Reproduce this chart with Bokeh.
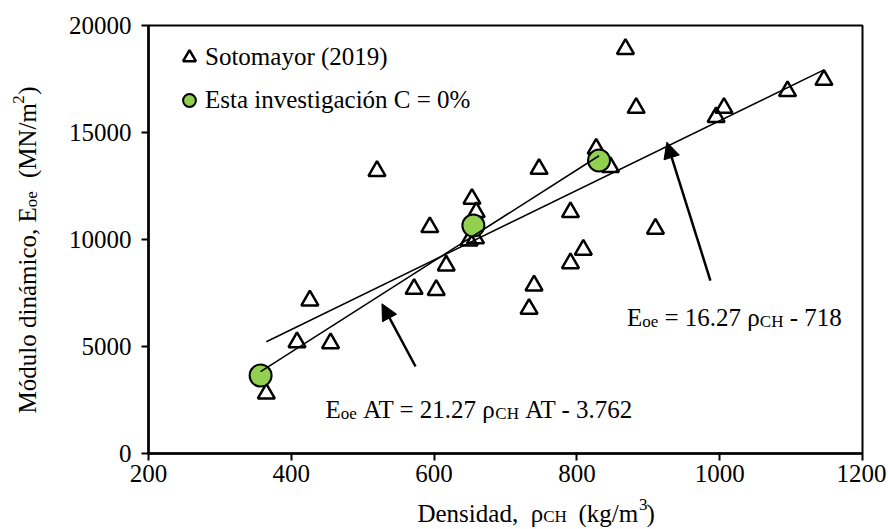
import math
from bokeh.plotting import figure
from bokeh.models import (Range1d, FixedTicker, Label, Arrow, NormalHead,
                          Legend, LegendItem, ColumnDataSource)
from bokeh.embed import file_html
from bokeh.resources import INLINE

# ---------------- data ----------------
soto_density = [365, 408, 426, 455, 520, 572, 594, 603, 617, 649, 653, 658, 659,
                733, 740, 747, 791, 791, 809, 827, 847, 868, 883, 910, 995, 1006,
                1095, 1146]
soto_modulus = [2800, 5200, 7150, 5150, 13200, 7690, 10575, 7640, 8785, 9950, 11900,
                10050, 11280, 6760, 7850, 13300, 11280, 8890, 9520, 14240, 13380,
                18900, 16150, 10500, 15720, 16150, 16930, 17460]

esta_density = [357, 655, 831]
esta_modulus = [3640, 10650, 13690]

soto_slope, soto_intercept = 16.27, -718
esta_slope, esta_intercept = 21.27, -3762

x_ticks = [200, 400, 600, 800, 1000, 1200]
y_ticks = [0, 5000, 10000, 15000, 20000]

FONT = "Liberation Serif"
BIG = 25
SMALL = 17
BASE_FIX = 8   # label baseline correction (px)

# Times-like advance widths (per 1000 em) and a few kerning pairs
W = {'E': 611, 'o': 500, 'e': 444, ' ': 250, '\u00a0': 250, '=': 564, '.': 250,
     'ρ': 500, 'C': 667, 'H': 722, '-': 333, 'A': 722, 'T': 611, 'D': 722,
     'n': 500, 's': 389, 'i': 278, 'd': 500, 'a': 444, ',': 250, '(': 333,
     ')': 333, 'k': 500, 'g': 500, '/': 278, 'm': 778, 'M': 889, 'ó': 500,
     'u': 500, 'l': 278, 'á': 444, 'c': 444, 'N': 722}
KERN = {('A', 'T'): -111}


def text_width(txt, size):
    w = sum(W.get(ch, 500) for ch in txt)
    w += sum(KERN.get((a, b), 0) for a, b in zip(txt, txt[1:]))
    return w * size / 1000.0


def spacer(px, size):
    """Non-collapsing spaces (four-per-em and six-per-em) of about px width."""
    target = px / size
    best = ("", 1e9)
    for a in range(0, 24):
        for b in range(0, 6):
            err = abs(a * 0.25 + b / 6.0 - target)
            if err < best[1] - 1e-9:
                best = ("\u2005" * a + "\u2006" * b, err)
    return best[0]


p = figure(width=886, height=527, output_backend="svg", toolbar_location=None,
           x_range=Range1d(200, 1200), y_range=Range1d(0, 20000),
           min_border_left=148, min_border_right=24, min_border_top=25,
           min_border_bottom=74)
p.background_fill_color = "white"
p.border_fill_color = "white"
p.outline_line_color = "black"
p.outline_line_width = 2
p.xgrid.visible = False
p.ygrid.visible = False

for ax, ticks in ((p.xaxis[0], x_ticks), (p.yaxis[0], y_ticks)):
    ax.ticker = FixedTicker(ticks=ticks)
    ax.minor_tick_line_color = None
    ax.major_tick_in = 0
    ax.major_tick_out = 7
    ax.major_tick_line_width = 2
    ax.major_tick_line_color = "black"
    ax.axis_line_width = 2.5
    ax.axis_line_color = "black"
    ax.major_label_text_font = FONT
    ax.major_label_text_font_size = f"{BIG}px"
    ax.major_label_text_color = "black"
p.xaxis.major_label_standoff = 4
p.yaxis.major_label_standoff = 10

soto_src = ColumnDataSource(dict(x=soto_density, y=soto_modulus))
esta_src = ColumnDataSource(dict(x=esta_density, y=esta_modulus))

r_soto = p.scatter("x", "y", source=soto_src, marker="triangle", size=17,
                   fill_alpha=0, line_color="black", line_width=2.5)
r_esta = p.scatter("x", "y", source=esta_src, marker="circle", size=22,
                   fill_color="#92D050", line_color="black", line_width=2)

# trend lines
sx0, sx1 = min(soto_density), max(soto_density)
p.line([sx0, sx1], [soto_slope * sx0 + soto_intercept, soto_slope * sx1 + soto_intercept],
       line_color="black", line_width=1.5)
ex0, ex1 = min(esta_density), max(esta_density)
p.line([ex0, ex1], [esta_slope * ex0 + esta_intercept, esta_slope * ex1 + esta_intercept],
       line_color="black", line_width=1.5)

# arrows
for (xs, ys, xe, ye) in ((987, 8084, 926, 14550), (574, 4065, 527, 6995)):
    p.add_layout(Arrow(end=NormalHead(size=16, fill_color="black", line_color="black"),
                       x_start=xs, y_start=ys, x_end=xe, y_end=ye,
                       line_color="black", line_width=2.5))


def make_label(x, y, text, size, dx, dy, angle=0.0):
    dy = dy + BASE_FIX
    if angle == 0:
        lab = Label(x=x, y=y, x_offset=dx, y_offset=dy, text=text)
    else:
        lab = Label(x=x, y=y, x_offset=-dy, y_offset=dx, text=text,
                    angle=angle, angle_units="rad")
    lab.text_font = FONT
    lab.text_font_size = f"{size}px"
    lab.text_color = "black"
    lab.text_baseline = "alphabetic"
    lab.text_align = "left"
    return lab


def rich(x, y, runs, angle=0.0):
    """Runs drawn one label each (used inside the frame)."""
    off = 0.0
    for txt, size, shift in runs:
        lead = len(txt) - len(txt.lstrip(" "))
        off += text_width(" " * lead, size)
        core = txt.strip(" ")
        trail = len(txt.lstrip(" ")) - len(core)
        if core:
            p.add_layout(make_label(x, y, core, size, off, shift, angle))
        off += text_width(core, size) + text_width(" " * trail, size)


def rich_outside(x, y, runs, places, angle=0.0):
    """Main-size runs merged into one label (gaps filled by fixed-width spaces);
    each small run gets its own label. Labels sit in side panels so they are
    not clipped to the frame."""
    main = ""
    off = 0.0
    small = []
    for txt, size, shift in runs:
        w = text_width(txt, size)
        if size == BIG:
            main += txt.replace(" ", "\u00a0")
        else:
            main += spacer(w, BIG)
            small.append((txt, size, off, shift))
        off += w
    p.add_layout(make_label(x, y, main, BIG, 0, 0, angle), places[0])
    for (txt, size, dx, shift), place in zip(small, places[1:]):
        p.add_layout(make_label(x, y, txt, size, dx, shift, angle), place)


# equations
rich(870, 5980, [("E", BIG, 0), ("oe", SMALL, -4), (" = 16.27 ρ", BIG, 0),
                 ("CH", SMALL, -4), (" - 718", BIG, 0)])
rich(448, 1700, [("E", BIG, 0), ("oe", SMALL, -4), (" AT = 21.27 ρ", BIG, 0),
                 ("CH", SMALL, -4), (" AT - 3.762", BIG, 0)])

# axis titles
rich_outside(576.7, -3200, [("Densidad,  ρ", BIG, 0), ("CH", SMALL, -3),
                            ("  (kg/m", BIG, 0), ("3", SMALL, 9), (")", BIG, 0)],
             places=["below", "above", "right"])
rich_outside(41.7, 1870, [("Módulo dinámico, E", BIG, 0), ("oe", SMALL, -4),
                          ("  (MN/m", BIG, 0), ("2", SMALL, 9), (")", BIG, 0)],
             places=["left", "left", "left"], angle=math.pi / 2)

legend = Legend(items=[LegendItem(label="Sotomayor (2019)", renderers=[r_soto]),
                       LegendItem(label="Esta investigación C = 0%", renderers=[r_esta])],
                location=(25, 337), orientation="vertical")
legend.border_line_color = None
legend.background_fill_alpha = 0
legend.padding = 0
legend.margin = 0
legend.spacing = 11
legend.glyph_width = 32
legend.glyph_height = 32
legend.label_standoff = 0
legend.label_text_font = FONT
legend.label_text_font_size = f"{BIG}px"
legend.label_text_color = "black"
p.add_layout(legend)

open("out.html", "w").write(file_html(p, INLINE))
